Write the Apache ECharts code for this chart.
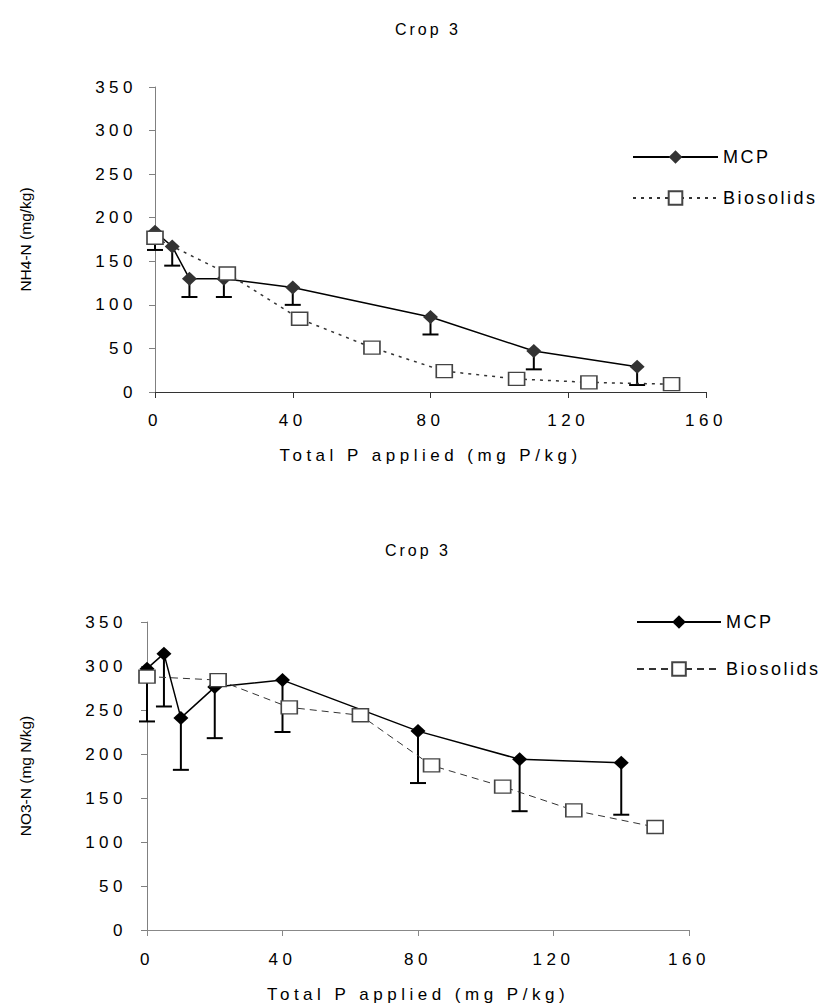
<!DOCTYPE html>
<html>
<head>
<meta charset="utf-8">
<script src="https://cdn.jsdelivr.net/npm/echarts@6/dist/echarts.min.js"></script>
<style>
  html, body { margin: 0; padding: 0; background: #fff; }
  #chart { width: 831px; height: 1007px; }
  /* the original figure has widely spaced lettering */
  #chart text[style*="font-size: 17px"] { letter-spacing: 4.5px; }
  #chart text[style*="font-size: 18px"] { letter-spacing: 2.5px; }
  #chart text[style*="font-size: 16px"] { letter-spacing: 3px; }
</style>
</head>
<body>
<div id="chart"></div>
<script>
// tick labels / axis ranges
const xTicks = [0, 40, 80, 120, 160]
const yTicks = [0, 50, 100, 150, 200, 250, 300, 350]

// x positions (mg P/kg)
const xMcp = [0, 5, 10, 20, 40, 80, 110, 140]
const xBio = [0, 21, 42, 63, 84, 105, 126, 150]

// top panel: NH4-N
const nh4Mcp = [184, 167, 130, 130, 120, 86, 47, 29]
const nh4McpLow = [163, 145, 109, 109, 100, 66, 26, 8]
const nh4Bio = [177, 136, 84, 51, 24, 15, 11, 9]

// bottom panel: NO3-N
const no3Mcp = [297, 314, 241, 276, 284, 226, 194, 190]
const no3McpLow = [237, 254, 182, 218, 225, 167, 135, 131]
const no3Bio = [288, 284, 253, 244, 187, 163, 136, 117]

const font = 'Liberation Sans, Arial, sans-serif'
const pair = (xs, ys) => xs.map((x, i) => [x, ys[i]])
const triple = (xs, ys, lo) => xs.map((x, i) => [x, ys[i], lo[i]])

// downward error bar with a cap
function errBar(params, api) {
  const top = api.coord([api.value(0), api.value(1)])
  const bot = api.coord([api.value(0), api.value(2)])
  return {
    type: 'group',
    children: [
      { type: 'line', shape: { x1: top[0], y1: top[1], x2: bot[0], y2: bot[1] }, style: { stroke: '#000', lineWidth: 2 } },
      { type: 'line', shape: { x1: bot[0] - 8, y1: bot[1], x2: bot[0] + 8, y2: bot[1] }, style: { stroke: '#000', lineWidth: 2 } },
    ],
  }
}

function xAxis(gridIndex, lineColor, margin, nameGap) {
  return {
    gridIndex,
    type: 'value',
    min: xTicks[0],
    max: xTicks[xTicks.length - 1],
    interval: xTicks[1] - xTicks[0],
    name: 'Total P applied (mg P/kg)',
    nameLocation: 'middle',
    nameGap,
    nameTextStyle: { fontFamily: font, fontSize: 17, color: '#000' },
    axisLine: { lineStyle: { color: lineColor, width: 1 } },
    axisTick: { show: true, length: 6, lineStyle: { color: lineColor } },
    axisLabel: { fontFamily: font, fontSize: 17, color: '#000', margin },
    splitLine: { show: false },
  }
}

function yAxis(gridIndex, name, nameGap, margin) {
  return {
    gridIndex,
    type: 'value',
    min: yTicks[0],
    max: yTicks[yTicks.length - 1],
    interval: yTicks[1] - yTicks[0],
    name,
    nameLocation: 'middle',
    nameRotate: 90,
    nameGap,
    nameTextStyle: { fontFamily: font, fontSize: 15.5, color: '#000' },
    axisLine: { show: true, lineStyle: { color: '#808080', width: 1 } },
    axisTick: { show: true, length: 6, lineStyle: { color: '#808080' } },
    axisLabel: { fontFamily: font, fontSize: 17, color: '#000', margin },
    splitLine: { show: false },
  }
}

function legend(left, top, width, gap, mcpColor, bioDash) {
  return {
    orient: 'vertical',
    left,
    top,
    itemWidth: width,
    itemHeight: 17,
    itemGap: gap,
    selectedMode: false,
    data: [
      { name: 'MCP', itemStyle: { color: mcpColor } },
      { name: 'Biosolids', lineStyle: { type: bioDash } },
    ],
    textStyle: { fontFamily: font, fontSize: 18, color: '#000' },
  }
}

const mcpStyle = {
  type: 'line',
  name: 'MCP',
  symbol: 'diamond',
  symbolSize: [15, 14],
  lineStyle: { color: '#000', width: 1.5, type: 'solid' },
  itemStyle: { color: '#333', borderColor: '#333', borderWidth: 0 },
  z: 4,
}

const titleStyle = { fontFamily: font, fontSize: 16, fontWeight: 'normal', color: '#000' }

const chart = echarts.init(document.getElementById('chart'), null, { renderer: 'svg' })
chart.setOption({
  animation: false,
  backgroundColor: '#fff',
  title: [
    { text: 'Crop 3', left: 423, top: 16, textAlign: 'center', textStyle: titleStyle },
    { text: 'Crop 3', left: 413, top: 537, textAlign: 'center', textStyle: titleStyle },
  ],
  legend: [legend(627, 143, 85, 23, '#333', [3, 5]), legend(631, 608, 84, 29, '#000', [7, 5])],
  grid: [
    { left: 155, top: 87, width: 551, height: 305 },
    { left: 147, top: 622, width: 542, height: 308 },
  ],
  xAxis: [xAxis(0, '#333', 20, 55), xAxis(1, '#888', 21, 56)],
  yAxis: [yAxis(0, 'NH4-N (mg/kg)', 122, 18), yAxis(1, 'NO3-N (mg N/kg)', 114, 20)],
  series: [
    {
      type: 'custom', name: 'errMcp1', xAxisIndex: 0, yAxisIndex: 0,
      renderItem: errBar, data: triple(xMcp, nh4Mcp, nh4McpLow), z: 2,
    },
    Object.assign({}, mcpStyle, { xAxisIndex: 0, yAxisIndex: 0, data: pair(xMcp, nh4Mcp) }),
    {
      type: 'line', name: 'Biosolids', xAxisIndex: 0, yAxisIndex: 0,
      data: pair(xBio, nh4Bio),
      symbol: 'rect', symbolSize: [16, 13],
      lineStyle: { color: '#333', width: 1.5, type: [3, 5] },
      itemStyle: { color: '#fff', borderColor: '#444', borderWidth: 1.5 },
      z: 5,
    },
    {
      type: 'custom', name: 'errMcp2', xAxisIndex: 1, yAxisIndex: 1,
      renderItem: errBar, data: triple(xMcp, no3Mcp, no3McpLow), z: 2,
    },
    Object.assign({}, mcpStyle, { xAxisIndex: 1, yAxisIndex: 1, data: pair(xMcp, no3Mcp), itemStyle: { color: '#000' } }),
    {
      type: 'line', name: 'Biosolids', xAxisIndex: 1, yAxisIndex: 1,
      data: pair(xBio, no3Bio),
      symbol: 'rect', symbolSize: [16, 13],
      lineStyle: { color: '#333', width: 1, type: [7, 5] },
      itemStyle: { color: '#fff', borderColor: '#444', borderWidth: 1.5 },
      z: 5,
    },
  ],
})
</script>
</body>
</html>
